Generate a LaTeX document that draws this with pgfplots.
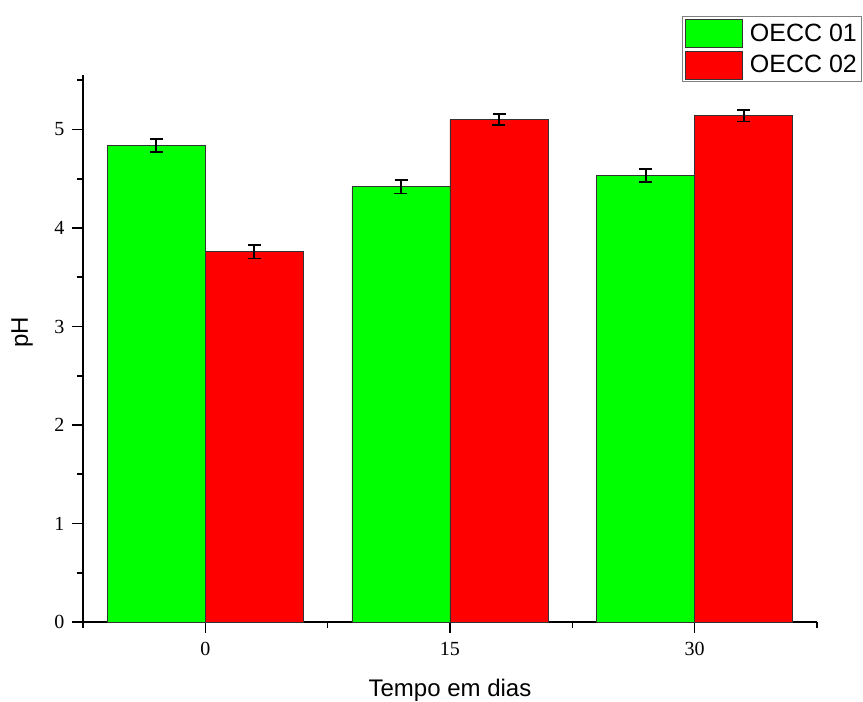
\documentclass[border=0pt]{standalone}
\usepackage{pgfplots}
\pgfplotsset{compat=1.18}
\usepackage{fontspec}
\setmainfont{Liberation Serif}
\setsansfont{Liberation Sans}
\definecolor{bgreen}{RGB}{0,255,0}
\definecolor{bred}{RGB}{255,0,0}
\begin{document}
\begin{tikzpicture}
\path[use as bounding box] (-83pt,-80pt) rectangle (780pt,622pt);
\begin{axis}[
  at={(0pt,0pt)}, anchor=south west,
  scale only axis, width=734pt, height=546.7pt,
  xmin=-0.5, xmax=2.5, ymin=0, ymax=5.55,
  axis x line*=bottom, axis y line*=left,
  axis line style={line width=1.6pt, -},
  ybar=0pt, bar width=98pt,
  xtick={0,1,2}, xticklabels={0,15,30},
  minor xtick={-0.5,0.5,1.5,2.5},
  ytick={0,1,2,3,4,5},
  minor ytick={0.5,1.5,2.5,3.5,4.5,5.5},
  tick align=outside,
  major tick length=11pt, minor tick length=6pt,
  every tick/.style={line width=1.6pt, black},
  tick label style={font=\fontsize{20}{20}\selectfont},
  xticklabel style={yshift=-6pt},
  yticklabel style={xshift=-4pt},
  /pgf/number format/assume math mode=true,
  xlabel={Tempo em dias}, ylabel={pH},
  label style={font=\sffamily\fontsize{24}{24}\selectfont},
  xlabel style={at={(axis description cs:0.5,-0.137)}, anchor=base},
  ylabel style={at={(axis description cs:-0.0831,0.53)}, anchor=center},
  legend style={at={(axis description cs:0.8155,1.108)}, anchor=north west,
    draw=gray, line width=1pt, font=\sffamily\fontsize{25}{25}\selectfont,
    inner xsep=3pt, inner ysep=2pt, row sep=3pt},
  legend cell align=left,
  legend image code/.code={\draw[#1, line width=0.8pt] (0pt,-14pt) rectangle (57pt,14pt); \path (62pt,0pt);},
  error bars/error bar style={line width=1.8pt, black},
  error bars/error mark options={rotate=90, mark size=6.5pt, line width=1.8pt, black},
]
\addplot[fill=bgreen, draw=black!80, line width=0.8pt,
  error bars/.cd, y dir=both, y explicit]
  coordinates {(0,4.84) +- (0,0.065) (1,4.42) +- (0,0.07) (2,4.53) +- (0,0.065)};
\addplot[fill=bred, draw=black!80, line width=0.8pt,
  error bars/.cd, y dir=both, y explicit]
  coordinates {(0,3.76) +- (0,0.07) (1,5.10) +- (0,0.055) (2,5.14) +- (0,0.06)};
\legend{OECC 01, OECC 02}
\end{axis}
\end{tikzpicture}
\end{document}
